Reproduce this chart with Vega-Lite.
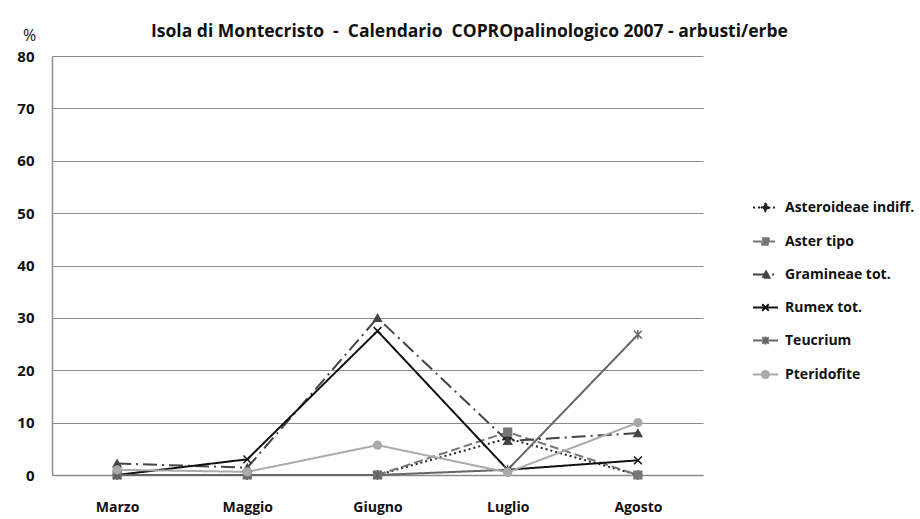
{
  "$schema": "https://vega.github.io/schema/vega-lite/v6.json",
  "width": 651,
  "height": 419,
  "autosize": "none",
  "padding": {"left": 52, "top": 56, "right": 217, "bottom": 44},
  "background": "white",
  "config": {
    "font": "Open Sans",
    "view": {"stroke": null}
  },
  "title": {
    "text": "Isola di Montecristo \u00a0-\u00a0 Calendario \u00a0COPROpalinologico 2007 - arbusti/erbe",
    "font": "Open Sans",
    "fontSize": 17.5,
    "fontWeight": "bold",
    "color": "#111",
    "anchor": "middle",
    "dx": 92,
    "offset": -13
  },
  "data": {
    "values": [
      {"mese": "Marzo", "serie": "Asteroideae indiff.", "valore": 0},
      {"mese": "Maggio", "serie": "Asteroideae indiff.", "valore": 0},
      {"mese": "Giugno", "serie": "Asteroideae indiff.", "valore": 0},
      {"mese": "Luglio", "serie": "Asteroideae indiff.", "valore": 7},
      {"mese": "Agosto", "serie": "Asteroideae indiff.", "valore": 0},
      {"mese": "Marzo", "serie": "Aster tipo", "valore": 0},
      {"mese": "Maggio", "serie": "Aster tipo", "valore": 0},
      {"mese": "Giugno", "serie": "Aster tipo", "valore": 0},
      {"mese": "Luglio", "serie": "Aster tipo", "valore": 8.2},
      {"mese": "Agosto", "serie": "Aster tipo", "valore": 0},
      {"mese": "Marzo", "serie": "Gramineae tot.", "valore": 2.2},
      {"mese": "Maggio", "serie": "Gramineae tot.", "valore": 1.4},
      {"mese": "Giugno", "serie": "Gramineae tot.", "valore": 30},
      {"mese": "Luglio", "serie": "Gramineae tot.", "valore": 6.5},
      {"mese": "Agosto", "serie": "Gramineae tot.", "valore": 8},
      {"mese": "Marzo", "serie": "Rumex tot.", "valore": 0},
      {"mese": "Maggio", "serie": "Rumex tot.", "valore": 3},
      {"mese": "Giugno", "serie": "Rumex tot.", "valore": 27.5},
      {"mese": "Luglio", "serie": "Rumex tot.", "valore": 1},
      {"mese": "Agosto", "serie": "Rumex tot.", "valore": 2.8},
      {"mese": "Marzo", "serie": "Teucrium", "valore": 0},
      {"mese": "Maggio", "serie": "Teucrium", "valore": 0},
      {"mese": "Giugno", "serie": "Teucrium", "valore": 0},
      {"mese": "Luglio", "serie": "Teucrium", "valore": 1},
      {"mese": "Agosto", "serie": "Teucrium", "valore": 26.8},
      {"mese": "Marzo", "serie": "Pteridofite", "valore": 1},
      {"mese": "Maggio", "serie": "Pteridofite", "valore": 0.6},
      {"mese": "Giugno", "serie": "Pteridofite", "valore": 5.7},
      {"mese": "Luglio", "serie": "Pteridofite", "valore": 0.5},
      {"mese": "Agosto", "serie": "Pteridofite", "valore": 10}
    ]
  },
  "encoding": {
    "x": {
      "field": "mese",
      "type": "ordinal",
      "sort": ["Marzo", "Maggio", "Giugno", "Luglio", "Agosto"],
      "scale": {"type": "point", "padding": 0.5},
      "axis": {
        "title": null,
        "labelAngle": 0,
        "labelFont": "Open Sans",
        "labelFontSize": 14,
        "labelFontWeight": "bold",
        "labelColor": "#111",
        "labelPadding": 25,
        "ticks": false,
        "domainColor": "#8c8c8c",
        "domainWidth": 1.5
      }
    },
    "y": {
      "field": "valore",
      "type": "quantitative",
      "scale": {"domain": [0, 80]},
      "axis": {
        "values": [0, 10, 20, 30, 40, 50, 60, 70, 80],
        "title": "%",
        "titleAngle": 0,
        "titleX": -23,
        "titleY": -21,
        "titleAlign": "center",
        "titleBaseline": "middle",
        "titleFont": "Open Sans",
        "titleFontSize": 16,
        "titleFontWeight": "normal",
        "titleColor": "#111",
        "labelFont": "Open Sans",
        "labelFontSize": 15,
        "labelFontWeight": "bold",
        "labelColor": "#111",
        "labelPadding": 18,
        "ticks": false,
        "domainColor": "#8c8c8c",
        "domainWidth": 1.5,
        "grid": true,
        "gridColor": "#8c8c8c",
        "gridWidth": 1.2
      }
    }
  },
  "layer": [
    {
      "mark": {"type": "line", "strokeWidth": 2},
      "encoding": {
        "strokeDash": {
          "field": "serie",
          "type": "nominal",
          "scale": {
            "domain": ["Asteroideae indiff.", "Aster tipo", "Gramineae tot.", "Rumex tot.", "Teucrium", "Pteridofite"],
            "range": [[2, 3], [9, 4], [14, 5, 2, 5], [1, 0], [1, 0], [1, 0]]
          }
        },
        "color": {
          "field": "serie",
          "type": "nominal",
          "scale": {
            "domain": ["Asteroideae indiff.", "Aster tipo", "Gramineae tot.", "Rumex tot.", "Teucrium", "Pteridofite"],
            "range": ["#222222", "#777777", "#444444", "#111111", "#666666", "#aaaaaa"]
          },
          "legend": {
            "title": null,
            "orient": "none",
            "legendX": 700,
            "legendY": 138,
            "symbolType": "stroke",
            "symbolSize": 625,
            "symbolStrokeWidth": 2,
            "labelFont": "Open Sans",
            "labelFontSize": 14,
            "labelFontWeight": "bold",
            "labelColor": "#111",
            "labelOffset": 6,
            "rowPadding": 12,
            "labelLimit": 300,
            "encode": {
              "symbols": {
                "update": {
                  "shape": {"signal": "datum.value === 'Asteroideae indiff.' ? 'M-1,0H1M0,-0.3L0.3,0L0,0.3L-0.3,0Z' : datum.value === 'Aster tipo' ? 'M-1,0H1M-0.26,-0.26H0.26V0.26H-0.26Z' : datum.value === 'Gramineae tot.' ? 'M-1,0H1M0,-0.32L0.32,0.26H-0.32Z' : datum.value === 'Rumex tot.' ? 'M-1,0H1M-0.26,-0.26L0.26,0.26M-0.26,0.26L0.26,-0.26' : datum.value === 'Teucrium' ? 'M-1,0H1M-0.26,-0.26L0.26,0.26M-0.26,0.26L0.26,-0.26M0,-0.32V0.32' : 'M-1,0H1M0.28,0A0.28,0.28,0,1,1,-0.28,0A0.28,0.28,0,1,1,0.28,0Z'"},
                  "fill": {"signal": "scale('color', datum.value)"}
                }
              }
            }
          }
        }
      }
    },
    {
      "transform": [{"calculate": "datum.serie", "as": "serie_m"}],
      "mark": {"type": "point", "filled": true, "opacity": 1, "strokeWidth": 1.5},
      "encoding": {
        "shape": {
          "field": "serie_m",
          "type": "nominal",
          "scale": {
            "domain": ["Aster tipo", "Asteroideae indiff.", "Gramineae tot.", "Pteridofite", "Rumex tot.", "Teucrium"],
            "range": ["square", "diamond", "triangle-up", "circle", "M-1,-1L1,1M-1,1L1,-1", "M-1,-1L1,1M-1,1L1,-1M0,-1.2V1.2"]
          },
          "legend": null
        },
        "fill": {
          "field": "serie_m",
          "type": "nominal",
          "scale": {
            "domain": ["Aster tipo", "Asteroideae indiff.", "Gramineae tot.", "Pteridofite", "Rumex tot.", "Teucrium"],
            "range": ["#777777", "#222222", "#444444", "#aaaaaa", "#111111", "#666666"]
          },
          "legend": null
        },
        "stroke": {
          "field": "serie_m",
          "type": "nominal",
          "scale": {
            "domain": ["Aster tipo", "Asteroideae indiff.", "Gramineae tot.", "Pteridofite", "Rumex tot.", "Teucrium"],
            "range": ["#777777", "#222222", "#444444", "#aaaaaa", "#111111", "#666666"]
          },
          "legend": null
        },
        "size": {"value": 60}
      }
    }
  ]
}
